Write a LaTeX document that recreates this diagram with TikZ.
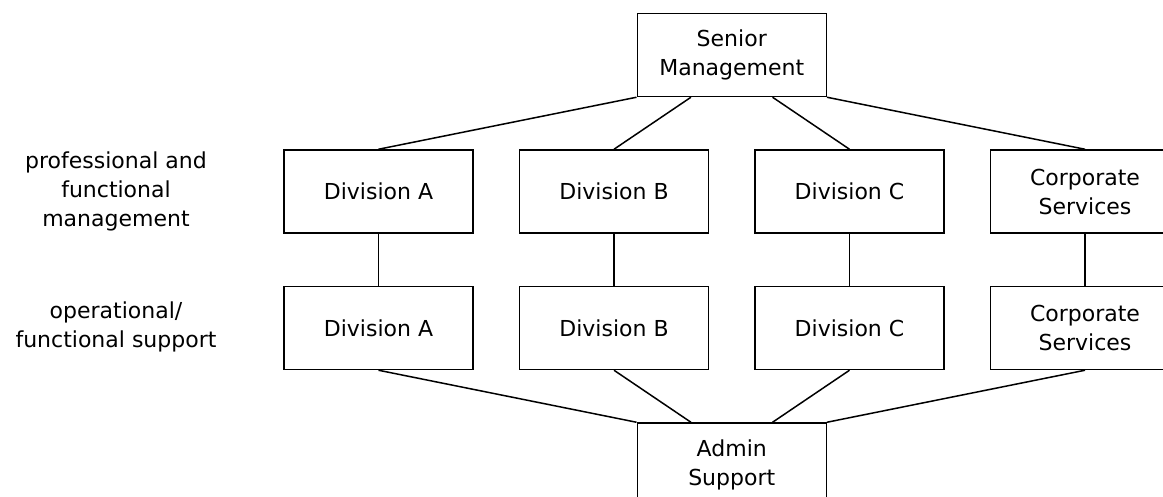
\documentclass[tikz,border=0pt]{standalone}
\usepackage{fontspec}
\setmainfont{DejaVu Sans}
\usetikzlibrary{positioning,calc}

\begin{document}
\begin{tikzpicture}[
  x=1pt,y=1pt,
  node distance=52pt and 45pt,
  box/.style={draw,line width=1.5pt,align=center,minimum width=189pt,minimum height=83pt,inner sep=2pt,font=\fontsize{22}{29}\selectfont},
  sidelabel/.style={align=center,font=\fontsize{22}{29}\selectfont},
  line/.style={line width=1.5pt}
]
\useasboundingbox (0,0) rectangle (1163,-497);
\clip (0,0) rectangle (1163,-497);
% management row
\node[box] (a1) at (378.5,-191.5) {Division A};
\node[box,right=of a1] (b1) {Division B};
\node[box,right=of b1] (c1) {Division C};
\node[box,right=of c1] (d1) {Corporate\\Services};
% support row
\node[box,below=of a1] (a2) {Division A};
\node[box,below=of b1] (b2) {Division B};
\node[box,below=of c1] (c2) {Division C};
\node[box,below=of d1] (d2) {Corporate\\Services};
% top and bottom
\coordinate (topmid) at ($(b1.north)!.5!(c1.north)$);
\coordinate (botmid) at ($(b2.south)!.5!(c2.south)$);
\node[box,above=of topmid] (senior) {Senior\\Management};
\node[box,below=of botmid] (admin) {Admin\\Support};
% row labels
\node[sidelabel] (lab1) at (116,-191.5) {professional and\\functional\\management};
\node[sidelabel] (lab2) at (116,-326.5) {operational/\\functional support};
% connectors
\draw[line] (senior.south west) -- (a1.north);
\draw[line] ($(senior.south west)!2/7!(senior.south east)$) -- (b1.north);
\draw[line] ($(senior.south west)!5/7!(senior.south east)$) -- (c1.north);
\draw[line] (senior.south east) -- (d1.north);
\foreach \n in {a,b,c,d}
  \draw[line] (\n1.south) -- (\n2.north);
\draw[line] (a2.south) -- (admin.north west);
\draw[line] (b2.south) -- ($(admin.north west)!2/7!(admin.north east)$);
\draw[line] (c2.south) -- ($(admin.north west)!5/7!(admin.north east)$);
\draw[line] (d2.south) -- (admin.north east);
\end{tikzpicture}
\end{document}
